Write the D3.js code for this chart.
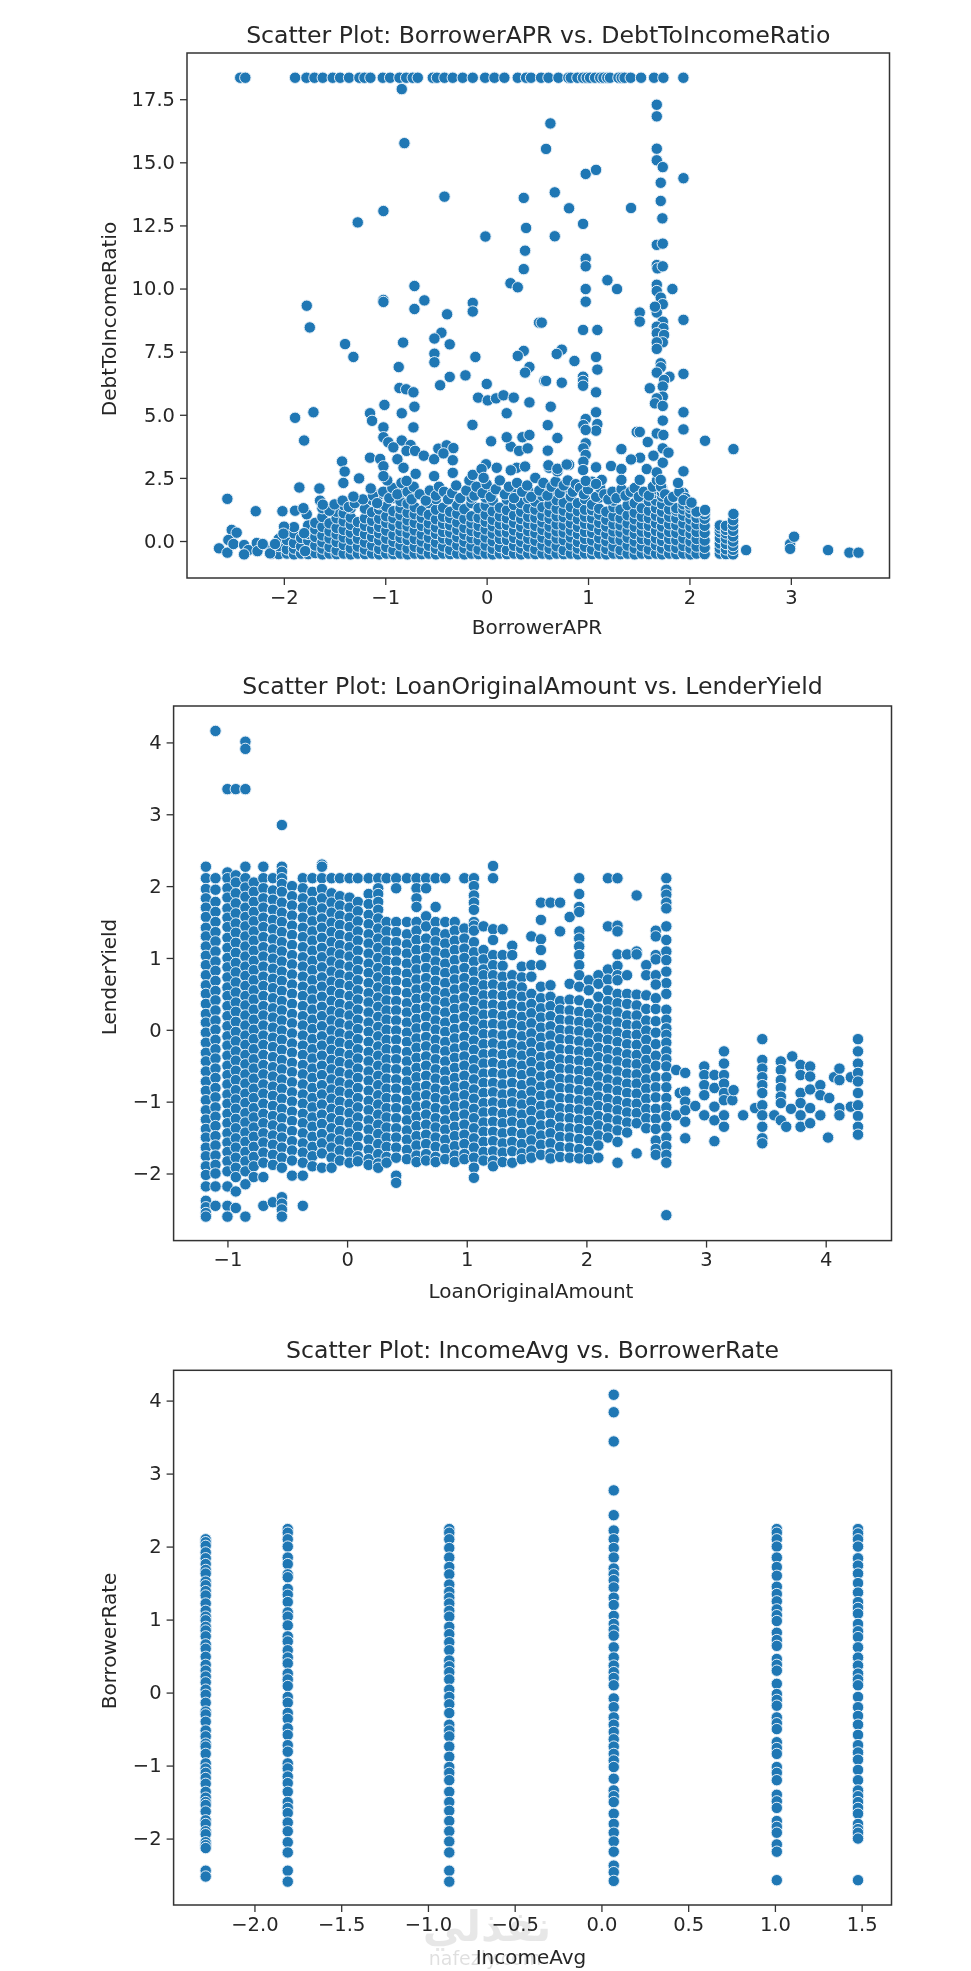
<!DOCTYPE html>
<html>
<head>
<meta charset="utf-8">
<script src="https://cdn.jsdelivr.net/npm/d3@7"></script>
<style>
    html, body { margin: 0; padding: 0; background: #fff; }
    svg { display: block; filter: blur(0.55px); }
    text { font-family: "DejaVu Sans", sans-serif; fill: #262626; }
</style>
</head>
<body>
<div id="chart"></div>
<script>

// ---- first panel: BorrowerAPR vs DebtToIncomeRatio ----
var aprTopRow = [-2.43,-2.38,-1.889,-1.777,-1.698,-1.616,-1.518,-1.445,-1.357,-1.255,-1.205,-1.146,-1.024,-.952,-.86,-.794,-.729,-.679,-.531,-.49,-.416,-.334,-.236,-.137,-.015,.077,.175,.307,.389,.438,.537,.61,.708,.806,.83,.895,.95,.987,1.02,1.069,1.12,1.152,1.19,1.217,1.3,1.332,1.36,1.421,1.523,1.651,1.743,1.94];
var debtTopValue = 18.35;

var aprDebtPoints = [
    [-.837,17.9],[-.811,15.76],[.629,16.54],[.586,15.53],[-.416,13.64],[-1.018,13.07],[-1.271,12.62],[.366,13.59],[.389,12.4],[-.012,12.06],
    [.379,11.5],[.366,10.77],[.235,10.21],[.307,10.05],[-.712,10.1],[-1.018,9.55],[-1.018,9.47],[-.614,9.53],[-.712,9.19],[-1.774,9.32],
    [-1.744,8.46],[-.39,8.98],[-.137,9.43],[-.137,9.09],[.517,8.65],[-1.396,7.8],[-1.314,7.29],[-.824,7.86],[-.446,8.25],[-.515,8.02],
    [-.364,7.79],[-.515,7.42],[-.515,7.08],[-.111,7.29],[.366,7.53],[.307,7.33],[.422,6.89],[.379,6.67],[-.867,6.89],[-.364,6.5],
    [-.459,6.17],[-.209,6.56],[.001,6.22],[.57,6.34],[-.86,6.06],[-.794,6.01],[-.722,5.89],[-.084,5.68],[.011,5.57],[.093,5.65],
    [.166,5.77],[.267,5.68],[.422,5.49],[-1.008,5.39],[-.712,5.32],[1.678,17.28],[1.678,16.82],[1.678,15.54],[1.678,15.08],[1.737,14.81],
    [1.941,14.37],[1.717,14.19],[.977,14.54],[1.079,14.7],[.672,13.81],[.813,13.18],[1.424,13.19],[1.717,13.47],[1.733,12.78],[.951,12.56],
    [.672,12.07],[1.678,11.73],[1.737,11.78],[.977,11.18],[.977,10.88],[1.678,10.93],[1.684,10.8],[1.737,10.88],[1.191,10.33],[1.286,9.98],
    [.977,9.98],[.977,9.48],[1.678,10.15],[1.832,9.98],[1.678,9.9],[1.717,9.64],[1.737,9.38],[1.51,9.05],[1.51,8.69],[1.678,9.05],
    [1.66,9.28],[1.941,8.76],[1.737,8.69],[1.678,8.49],[1.743,8.43],[1.678,8.23],[1.75,8.16],[1.737,7.87],[1.678,7.87],[1.678,7.61],
    [.543,8.65],[.951,8.36],[1.092,8.36],[.741,7.58],[.691,7.41],[.866,7.13],[1.079,7.29],[1.092,6.79],[1.717,7.04],[1.717,6.88],
    [1.678,6.67],[1.803,6.51],[1.941,6.62],[1.75,6.38],[.586,6.34],[.741,6.27],[.951,6.51],[.951,6.34],[.951,6.15],[1.079,5.89],
    [1.609,6.05],[1.737,6.12],[1.737,5.72],[1.678,5.65],[.632,5.32],[1.66,5.45],[1.737,5.35],[1.941,5.1],[1.079,5.1],[.977,4.83],
    [1.092,4.63],[.954,4.59],[.603,4.59],[1.737,4.77],[1.941,4.42],[1.079,4.37],[.977,4.4],[1.48,4.32],[1.51,4.32],[1.678,4.26],
    [1.743,4.2],[.698,4.08],[1.589,3.92],[.977,3.87],[2.154,3.97],[1.329,3.64],[2.434,3.64],[.603,3.58],[.954,3.67],[.977,3.41],
    [1.737,3.67],[1.793,3.5],[1.645,3.38],[1.513,3.3],[1.424,3.23],[.954,3.14],[1.737,3.1],[.813,3.02],[1.227,2.97],[1.079,2.92],
    [1.329,2.85],[1.579,2.85],[.616,2.9],[.698,2.76],[.951,2.81],[1.941,2.76],[1.678,2.72],[1.135,2.42],[1.329,2.42],[1.51,2.42],
    [1.717,2.42],[1.888,2.3],[.977,2.38],[1.079,2.26],[2.559,-.36],[2.993,-.12],[3.032,.17],[2.993,-.31],[3.367,-.36],[3.578,-.46],[3.667,-.46],
    [-2.557,1.67],[-2.277,1.18],[-2.014,1.18],[-1.889,1.2],[-1.998,.57],[-2.514,.44],[-2.465,.33],[-2.547,.04],[-2.639,-.29],[-2.557,-.46],
    [-2.497,-.12],[-2.392,-.16],[-2.35,-.36],[-2.392,-.53],[-2.267,-.08],[-2.26,-.4],[-2.208,-.12],[-2.136,-.49],[-2.087,-.12],[-2.004,.29],
    [-1.79,-.4],[-1.8,.31],[-1.774,1.06],[-1.807,1.3],[-1.847,2.12],[-1.649,2.08],[-1.643,1.6],[-1.616,1.44],[-1.889,4.88],[-1.708,5.1],
    [-1.8,3.98],[-1.426,3.15],[-1.4,2.75],[-1.413,2.3],[-1.258,2.48],[-1.143,2.08],[-1.314,1.76],[-1.15,5.06],[-1.13,4.76],[-.837,5.06],
    [-1.018,4.5],[-.722,4.5],[-1.018,4.11],[-.97,3.91],[-.837,3.98],[-.92,3.71],[-.75,3.8],[-.79,3.57],[-.706,3.57],[-.62,3.38],
    [-1.15,3.3],[-1.05,3.25],[-.88,3.24],[-1.018,2.96],[-.82,2.9],[-.7,2.66],[-.98,2.4],[-1.018,2.57],[-.79,2.38],[-.518,2.57],
    [-.518,3.24],[-.476,3.66],[-.394,3.79],[-.328,3.68],[-.426,3.47],[-.334,3.2],[-.334,2.7],[-.137,2.62],[-.14,4.6],[.044,3.95],
    [-.006,3.04],[-.05,2.85],[.1,2.9],[-.03,2.5],[.198,5.06],[.238,3.74],[.32,3.57],[.405,3.67],[.198,4.11],[.353,4.11],[.422,4.2],
    [.609,3],[.698,2.86],[.297,2.9],[.379,2.95],[.238,2.8],[.79,3.03],[2.434,1.07],[2.07,1.16],[2.154,1.23],[1.941,1.62],[2.02,1.52]
];

// the looser band just above the solid part of the cloud
var aprDebtBand = [
    [-1.62,1.3],[-1.55,1.2],[-1.5,1.45],[-1.42,1.6],[-1.36,1.35],[-1.3,1.5],[-1.22,1.65],[-1.12,1.8],[-1.08,1.5],[-1.02,1.95],
    [-.96,1.7],[-.93,2.1],[-.88,1.85],[-.84,2.3],[-.78,1.95],[-.74,1.65],[-.72,2.15],[-.66,1.85],[-.6,1.6],[-.56,2],
    [-.5,1.8],[-.47,2.15],[-.42,1.95],[-.38,1.65],[-.34,1.9],[-.3,2.2],[-.26,1.7],[-.2,2],[-.17,2.4],[-.12,1.8],
    [-.1,2.15],[-.04,1.9],[0,2.25],[.04,1.75],[.09,2.05],[.13,2.4],[.18,1.85],[.22,2.15],[.27,1.7],[.3,2.3],
    [.35,1.95],[.4,2.2],[.44,1.75],[.48,2.5],[.52,2],[.56,2.3],[.6,1.8],[.64,2.15],[.68,2.35],[.72,1.9],
    [.76,2.2],[.8,2.4],[.85,1.95],[.88,2.25],[.92,2.1],[.96,1.85],[1,2.05],[1.04,2.35],[1.08,1.75],[1.12,2.1],
    [1.16,1.85],[1.2,1.65],[1.24,1.95],[1.28,1.7],[1.33,2.05],[1.37,1.8],[1.42,1.95],[1.46,2.1],[1.5,1.75],[1.55,1.95],
    [1.6,1.8],[1.64,2.15],[1.68,2.4],[1.72,2.15],[1.76,1.85],[1.8,1.6],[1.84,1.75],[1.9,1.95],[1.96,1.7],[2,1.45]
];

var aprColumnX = [-2.12,-2.05,-1.97,-1.9,-1.83,-1.76,-1.69,-1.62,-1.55,-1.48,-1.41,-1.34,-1.27,-1.2,-1.13,-1.06,-.99,-.92,-.85,-.78,-.71,-.64,-.57,-.5,-.43,-.36,-.29,-.22,-.15,-.08,-.01,.06,.13,.2,.27,.34,.41,.48,.55,.62,.69,.76,.83,.9,.97,1.04,1.11,1.18,1.25,1.32,1.39,1.46,1.53,1.6,1.67,1.73,1.8,1.87,1.94,2.01,2.07,2.15,2.3,2.36,2.43];
var debtColumns = [
    [-.5,-.3],[-.52,-.2,.08],[-.5,-.33,.04,.36],[-.53,-.3,-.08,.3,.55],[-.5,-.22,.12],[-.52,-.35,.02,.28,.62],[-.48,-.18,.16,.46,.72],
    [-.53,-.3,-.05,.22,.56,.95],[-.5,-.24,.1,.38,.7],[-.52,-.37,-.04,.26,.52,.9,1.16],[-.5,-.16,.14,.44,.78,1.1,1.42],
    [-.53,-.29,.05,.33,.64,.93,1.3],[-.5,-.22,.09,.4,.75],[-.52,-.34,-.06,.27,.6,.9,1.28],[-.5,-.18,.16,.48,.8,1.14,1.62],
    [-.53,-.32,.02,.3,.56,.88,1.25,1.46,1.84],[-.5,-.24,.09,.41,.72,.98,1.36],[-.52,-.36,-.03,.24,.6,.9,1.18,1.7],
    [-.5,-.17,.12,.39,.66,1.02,1.3,1.58,1.92],[-.53,-.3,.04,.3,.58,.82,1.12,1.48],[-.5,-.23,.08,.42,.72,1.06,1.34,1.86],
    [-.52,-.33,-.02,.26,.6,.92,1.2],[-.5,-.19,.13,.45,.7,1.04,1.5],[-.53,-.31,-.06,.28,.54,.86,1.24,1.66,1.9],
    [-.5,-.22,.1,.36,.68,.96,1.32],[-.52,-.35,.02,.33,.62,.9,1.16,1.82],[-.5,-.17,.15,.44,.74,1.08,1.42],
    [-.53,-.3,-.03,.25,.52,.88,1.26],[-.5,-.21,.11,.4,.7,.98,1.5,1.72],[-.52,-.34,.03,.32,.6,.92,1.3],
    [-.5,-.18,.14,.46,.76,1.04,1.4,1.72,2],[-.53,-.31,-.01,.29,.58,.84,1.18,1.6,1.92],[-.5,-.24,.08,.37,.66,.98,1.32],
    [-.52,-.36,.04,.34,.63,.9,1.22,1.64],[-.5,-.19,.12,.42,.72,1.02,1.42,1.86],[-.53,-.3,-.03,.26,.56,.87,1.16,1.5],
    [-.5,-.22,.09,.39,.68,.96,1.3,1.7,2],[-.52,-.33,.01,.31,.6,.92,1.24,1.56],[-.5,-.18,.13,.44,.74,1,1.34,1.78,2.02],
    [-.53,-.31,-.02,.28,.57,.88,1.14,1.46,1.9],[-.5,-.21,.1,.38,.66,.98,1.28,1.62],[-.52,-.36,.03,.33,.62,.94,1.2,1.52,2.06],
    [-.5,-.17,.14,.41,.7,1.02,1.34,1.76],[-.53,-.3,-.04,.27,.56,.86,1.18,1.5,2.1],[-.5,-.23,.08,.36,.68,.96,1.24,1.66,1.96],
    [-.52,-.34,.02,.32,.6,.9,1.22,1.44],[-.5,-.19,.11,.43,.72,1.04,1.28,1.72],[-.53,-.32,-.01,.27,.57,.84,1.16],
    [-.5,-.22,.09,.38,.66,.98,1.34,1.6],[-.52,-.36,.03,.34,.62,.9,1.24],[-.5,-.18,.13,.42,.7,1.02,1.42,1.88],
    [-.53,-.3,-.02,.28,.56,.86,1.12,1.5],[-.5,-.21,.08,.37,.66,.96,1.3,1.74],[-.52,-.34,.02,.32,.6,.9,1.2,1.58,1.92],
    [-.5,-.17,.1,.4,.7,1,1.3,1.6,1.9,2.05],[-.53,-.3,0,.28,.57,.87,1.16,1.46,1.76,1.92,2.1],[-.5,-.22,.08,.36,.66,.96,1.25],
    [-.52,-.28,.03,.32,.62,.9,1.2,1.3],[-.5,-.2,.1,.4,.7,1,1.25,1.45,1.72,1.9],[-.53,-.3,-.02,.28,.56,.86,1.1,1.3],[-.5,-.22,.08,.36,.66,.92,1.14],
    [-.52,-.27,.02,.32,.6,.88,1.06,1.2],[-.5,-.3,-.1,.12,.35,.5,.62],[-.52,-.33,-.12,.1,.3,.44,.6],[-.53,-.35,-.2,-.02,.18,.4,.62,.82]
];

// ---- second panel: LoanOriginalAmount vs LenderYield ----
var loanX = [-1.18,-1.1,-1,-.93,-.85,-.78,-.7,-.62,-.545,-.46,-.37,-.29,-.21,-.13,-.06,.02,.09,.18,.26,.33,.41,.5,.58,.66,.74,.82,.9,.98,1.06,1.14,1.22,1.3,1.38,1.46,1.54,1.62,1.7,1.78,1.86,1.94,2.02,2.1,2.18,2.26,2.34,2.42,2.5,2.58];
var lenderYields = [
    [2.27,2.11,1.96,1.83,1.7,1.57,1.42,1.3,1.16,1.03,.9,.76,.62,.5,.36,.22,.1,-.04,-.18,-.32,-.44,-.58,-.72,-.85,-.98,-1.12,-1.25,-1.38,-1.5,-1.64,-1.76,-1.9,-2.02,-2.18,-2.38,-2.47,-2.55,-2.6],
    [4.16,2.11,1.95,1.78,1.64,1.5,1.36,1.23,1.09,.95,.82,.68,.54,.41,.27,.13,0,-.14,-.27,-.4,-.54,-.67,-.81,-.94,-1.08,-1.21,-1.34,-1.48,-1.61,-1.75,-1.88,-2,-2.18,-2.45],
    [3.35,2.19,2.11,1.97,1.84,1.69,1.56,1.43,1.28,1.14,1,.87,.73,.59,.47,.33,.19,.05,-.09,-.22,-.36,-.5,-.63,-.76,-.9,-1.03,-1.17,-1.3,-1.44,-1.57,-1.7,-1.83,-1.97,-2.18,-2.45,-2.6],
    [3.35,2.15,2.05,1.9,1.76,1.62,1.48,1.35,1.21,1.07,.93,.8,.66,.52,.38,.25,.11,-.03,-.16,-.3,-.43,-.57,-.7,-.84,-.97,-1.1,-1.24,-1.37,-1.51,-1.64,-1.78,-1.92,-2.05,-2.25,-2.48],
    [4.01,3.91,3.35,2.27,2.11,1.98,1.85,1.7,1.57,1.44,1.3,1.16,1.02,.88,.75,.61,.47,.34,.2,.06,-.08,-.21,-.35,-.48,-.62,-.75,-.89,-1.02,-1.16,-1.29,-1.43,-1.56,-1.7,-1.83,-1.97,-2.15,-2.6],
    [2.05,1.92,1.78,1.64,1.51,1.37,1.24,1.1,.96,.83,.69,.55,.42,.28,.14,0,-.13,-.27,-.41,-.54,-.68,-.82,-.95,-1.09,-1.22,-1.36,-1.49,-1.63,-1.77,-1.9,-2.05],
    [2.27,2.11,1.97,1.83,1.7,1.56,1.43,1.29,1.15,1.02,.88,.74,.61,.47,.33,.2,.06,-.08,-.21,-.35,-.49,-.62,-.76,-.89,-1.03,-1.17,-1.3,-1.44,-1.57,-1.71,-1.85,-2.05,-2.45],
    [2.11,1.94,1.81,1.67,1.53,1.4,1.26,1.12,.99,.85,.71,.58,.44,.3,.17,.03,-.11,-.24,-.38,-.52,-.65,-.79,-.92,-1.06,-1.2,-1.33,-1.47,-1.6,-1.74,-1.88,-2.4],
    [2.85,2.27,2.2,2.11,2.03,1.92,1.77,1.63,1.5,1.36,1.22,1.09,.95,.81,.68,.54,.4,.27,.13,-.01,-.14,-.28,-.42,-.55,-.69,-.82,-.96,-1.1,-1.23,-1.37,-1.5,-1.64,-1.78,-1.92,-2.33,-2.42,-2.5,-2.6],
    [2,1.86,1.73,1.59,1.45,1.32,1.18,1.04,.91,.77,.63,.5,.36,.22,.09,-.05,-.19,-.32,-.46,-.59,-.73,-.87,-1,-1.14,-1.27,-1.41,-1.55,-1.68,-1.82,-2.03],
    [2.11,1.97,1.83,1.7,1.56,1.42,1.29,1.15,1.01,.88,.74,.6,.47,.33,.19,.06,-.08,-.22,-.35,-.49,-.62,-.76,-.9,-1.03,-1.17,-1.3,-1.44,-1.58,-1.71,-1.85,-2.03,-2.45],
    [2.11,1.92,1.78,1.65,1.51,1.37,1.24,1.1,.96,.83,.69,.55,.42,.28,.14,.01,-.13,-.27,-.4,-.54,-.67,-.81,-.95,-1.08,-1.22,-1.35,-1.49,-1.63,-1.76,-1.9],
    [2.3,2.27,2.11,1.96,1.83,1.69,1.55,1.42,1.28,1.14,1.01,.87,.73,.6,.46,.32,.19,.05,-.09,-.22,-.36,-.5,-.63,-.77,-.9,-1.04,-1.18,-1.31,-1.45,-1.58,-1.72,-1.92],
    [2.11,1.9,1.77,1.63,1.49,1.36,1.22,1.08,.95,.81,.67,.54,.4,.26,.13,-.01,-.15,-.28,-.42,-.55,-.69,-.83,-.96,-1.1,-1.23,-1.37,-1.51,-1.64,-1.78,-1.92],
    [2.11,1.86,1.73,1.59,1.46,1.32,1.18,1.05,.91,.77,.64,.5,.36,.23,.09,-.05,-.18,-.32,-.45,-.59,-.73,-.86,-1,-1.13,-1.27,-1.41,-1.54,-1.68,-1.82],
    [2.11,1.84,1.7,1.56,1.43,1.29,1.15,1.02,.88,.74,.61,.47,.33,.2,.06,-.08,-.21,-.35,-.48,-.62,-.76,-.89,-1.03,-1.16,-1.3,-1.44,-1.57,-1.71,-1.85],
    [2.11,1.78,1.65,1.51,1.37,1.24,1.1,.96,.83,.69,.55,.42,.28,.14,.01,-.13,-.27,-.4,-.54,-.67,-.81,-.95,-1.08,-1.22,-1.35,-1.49,-1.63,-1.76,-1.83],
    [2.11,1.89,1.75,1.6,1.47,1.33,1.2,1.06,.92,.79,.65,.51,.38,.24,.1,-.03,-.17,-.31,-.44,-.58,-.71,-.85,-.99,-1.12,-1.26,-1.39,-1.53,-1.67,-1.8,-1.88],
    [2.11,1.97,1.89,1.78,1.67,1.55,1.41,1.27,1.14,1,.86,.73,.59,.45,.32,.18,.04,-.09,-.23,-.36,-.5,-.64,-.77,-.91,-1.04,-1.18,-1.32,-1.45,-1.59,-1.73,-1.86,-1.92],
    [2.11,1.5,1.37,1.23,1.09,.96,.82,.68,.55,.41,.27,.14,0,-.14,-.27,-.41,-.54,-.68,-.82,-.95,-1.09,-1.22,-1.36,-1.5,-1.63,-1.77,-1.85],
    [2.11,1.97,1.5,1.36,1.22,1.09,.95,.81,.68,.54,.4,.27,.13,-.01,-.14,-.28,-.41,-.55,-.69,-.82,-.96,-1.09,-1.23,-1.37,-1.5,-1.64,-1.78,-2.03,-2.13],
    [2.11,1.5,1.33,1.19,1.06,.92,.78,.65,.51,.37,.24,.1,-.04,-.17,-.31,-.44,-.58,-.72,-.85,-.99,-1.12,-1.26,-1.4,-1.53,-1.67,-1.8],
    [2.11,1.97,1.83,1.71,1.5,1.38,1.25,1.11,.97,.84,.7,.56,.43,.29,.15,.02,-.12,-.25,-.39,-.53,-.66,-.8,-.93,-1.07,-1.21,-1.34,-1.48,-1.61,-1.75,-1.84],
    [2.11,1.97,1.58,1.44,1.27,1.13,1,.86,.72,.59,.45,.31,.18,.04,-.1,-.23,-.37,-.5,-.64,-.78,-.91,-1.05,-1.18,-1.32,-1.46,-1.59,-1.73,-1.82],
    [2.11,1.71,1.5,1.36,1.23,1.09,.95,.82,.68,.54,.41,.27,.13,0,-.14,-.27,-.41,-.55,-.68,-.82,-.95,-1.09,-1.23,-1.36,-1.5,-1.63,-1.77,-1.84],
    [2.11,1.5,1.33,1.2,1.06,.92,.79,.65,.51,.38,.24,.1,-.03,-.17,-.3,-.44,-.58,-.71,-.85,-.98,-1.12,-1.26,-1.39,-1.53,-1.66,-1.8],
    [1.5,1.38,1.24,1.11,.97,.83,.7,.56,.42,.29,.15,.01,-.12,-.26,-.39,-.53,-.67,-.8,-.94,-1.07,-1.21,-1.35,-1.48,-1.62,-1.75,-1.84],
    [2.11,1.41,1.27,1.13,1,.86,.72,.59,.45,.31,.18,.04,-.1,-.23,-.37,-.5,-.64,-.78,-.91,-1.05,-1.18,-1.32,-1.46,-1.59,-1.73,-1.8],
    [2.11,2,1.87,1.77,1.67,1.5,1.45,1.38,1.22,1.08,.95,.81,.67,.54,.4,.26,.13,-.01,-.15,-.28,-.42,-.55,-.69,-.83,-.96,-1.1,-1.23,-1.37,-1.51,-1.64,-1.78,-1.92,-2.06],
    [1.44,1.11,.98,.84,.76,.62,.48,.35,.21,.07,-.06,-.2,-.34,-.47,-.61,-.74,-.88,-1.02,-1.15,-1.29,-1.42,-1.56,-1.7,-1.82],
    [2.28,2.11,1.4,1.25,1.04,.9,.76,.63,.49,.35,.22,.08,-.06,-.19,-.33,-.46,-.6,-.74,-.87,-1.01,-1.14,-1.28,-1.42,-1.55,-1.69,-1.82,-1.9],
    [1.4,1.04,.89,.74,.6,.47,.33,.19,.06,-.08,-.22,-.35,-.49,-.62,-.76,-.9,-1.03,-1.17,-1.3,-1.44,-1.58,-1.71,-1.84],
    [1.17,1.04,.76,.62,.49,.35,.21,.08,-.06,-.2,-.33,-.47,-.6,-.74,-.88,-1.01,-1.15,-1.28,-1.42,-1.56,-1.69,-1.85],
    [.88,.73,.59,.46,.32,.18,.05,-.09,-.23,-.36,-.5,-.63,-.77,-.91,-1.04,-1.18,-1.31,-1.45,-1.59,-1.72,-1.8],
    [1.3,.9,.74,.5,.36,.23,.09,-.05,-.18,-.32,-.45,-.59,-.73,-.86,-1,-1.13,-1.27,-1.41,-1.54,-1.68,-1.78],
    [1.77,1.53,1.26,1.11,.9,.6,.44,.3,.17,.03,-.11,-.24,-.38,-.51,-.65,-.79,-.92,-1.06,-1.19,-1.33,-1.47,-1.6,-1.74],
    [1.77,.62,.46,.33,.19,.05,-.08,-.22,-.36,-.49,-.63,-.76,-.9,-1.04,-1.17,-1.31,-1.44,-1.58,-1.72,-1.79],
    [1.77,1.37,.4,.28,.14,0,-.13,-.27,-.41,-.54,-.68,-.81,-.95,-1.09,-1.22,-1.36,-1.49,-1.63,-1.77],
    [1.57,.64,.42,.27,.13,-.01,-.14,-.28,-.42,-.55,-.69,-.82,-.96,-1.1,-1.23,-1.37,-1.5,-1.64,-1.78],
    [2.11,1.89,1.71,1.64,1.37,1.27,1.16,1.04,.9,.76,.6,.41,.25,.11,-.02,-.16,-.3,-.43,-.57,-.7,-.84,-.98,-1.11,-1.25,-1.38,-1.52,-1.66,-1.79],
    [.69,.55,.36,.22,.09,-.05,-.19,-.32,-.46,-.59,-.73,-.87,-1,-1.14,-1.27,-1.41,-1.55,-1.7,-1.8],
    [.76,.64,.46,.3,.16,.03,-.11,-.25,-.38,-.52,-.65,-.79,-.93,-1.06,-1.2,-1.33,-1.47,-1.61,-1.78],
    [2.11,1.44,.84,.7,.55,.4,.27,.13,-.01,-.14,-.28,-.41,-.55,-.69,-.82,-.96,-1.09,-1.23,-1.37,-1.5],
    [2.11,1.45,1.37,1.05,.89,.76,.69,.5,.37,.24,.1,-.04,-.17,-.31,-.44,-.58,-.72,-.85,-.99,-1.12,-1.26,-1.4,-1.56,-1.85],
    [1.05,.76,.5,.36,.2,.07,-.07,-.2,-.34,-.47,-.61,-.75,-.88,-1.02,-1.15,-1.29,-1.43],
    [1.87,1.09,1.05,.49,.34,.2,.06,-.07,-.21,-.35,-.48,-.62,-.75,-.89,-1.03,-1.16,-1.3,-1.72],
    [.9,.76,.48,.29,.13,-.01,-.14,-.28,-.42,-.55,-.69,-.82,-.96,-1.1,-1.23,-1.37],
    [1.38,1.3,1.04,.98,.76,.44,.29,.12,-.04,-.2,-.36,-.5,-.66,-.8,-.94,-1.1,-1.24,-1.38,-1.54,-1.66,-1.74]
];
var loanColumnMain = [2.11,1.95,1.88,1.77,1.69,1.44,1.25,1.09,.97,.81,.65,.5,.28,.14,.02,-.07,-.18,-.3,-.41,-.51,-.66,-.8,-.95,-1.08,-1.2,-1.35,-1.5,-1.62,-1.74,-1.85,-2.58];
var loanColumnMainX = 2.668;
var loanRightX = [2.58,2.75,2.75,2.78,2.826,2.826,2.826,2.826,2.826,2.826,2.91,2.985,2.985,2.985,2.985,2.985,3.07,3.07,3.07,3.07,3.07,3.15,3.15,3.15,3.15,3.15,3.15,3.15,3.15,3.22,3.23,3.31,3.41,3.47,3.47,3.47,3.47,3.47,3.47,3.47,3.47,3.47,3.47,3.47,3.57,3.625,3.625,3.625,3.625,3.625,3.625,3.625,3.67,3.71,3.72,3.79,3.79,3.79,3.79,3.79,3.79,3.87,3.87,3.87,3.87,3.87,3.955,3.955,3.955,4.02,4.03,4.07,4.115,4.115,4.115,4.115,4.21,4.21,4.27,4.27,4.27,4.27,4.27,4.27,4.27,4.27,4.27,4.27];
var loanRightY = [.63,-.56,-1.19,-.88,-.6,-.86,-1,-1.12,-1.28,-1.51,-1.06,-.51,-.63,-.77,-.91,-1.19,-.63,-.81,-1.07,-1.26,-1.55,-.3,-.47,-.63,-.75,-.88,-.98,-1.19,-1.35,-.98,-.84,-1.19,-1.09,-.13,-.42,-.54,-.66,-.77,-.88,-1.05,-1.19,-1.35,-1.51,-1.58,-1.19,-.44,-.56,-.7,-.81,-.93,-1.02,-1.26,-1.35,-1.1,-.37,-.49,-.63,-.88,-1.02,-1.19,-1.35,-.51,-.65,-.83,-1.09,-1.3,-.77,-.91,-1.19,-1.5,-.95,-.66,-.54,-.7,-1.09,-1.19,-.66,-1.07,-.13,-.3,-.47,-.6,-.72,-.88,-1.05,-1.2,-1.35,-1.46];

// ---- third panel: IncomeAvg vs BorrowerRate ----
var incomeX = [-2.281,-1.808,-.877,.071,1.011,1.479];
var borrowerRates = [
    [2.1,2.06,2.01,1.92,1.84,1.76,1.68,1.63,1.52,1.47,1.39,1.33,1.22,1.12,1.04,.99,.9,.85,.77,.66,.6,.49,.38,.3,.22,.14,.04,-.03,-.14,-.26,-.3,-.4,-.52,-.6,-.7,-.74,-.84,-.97,-1.04,-1.1,-1.17,-1.25,-1.36,-1.44,-1.5,-1.54,-1.63,-1.75,-1.8,-1.9,-1.94,-2.05,-2.09,-2.13,-2.44,-2.52],
    [2.24,2.19,2.1,2.0,1.85,1.76,1.62,1.58,1.42,1.34,1.24,1.1,1.04,.92,.77,.7,.58,.48,.4,.26,.18,.09,-.06,-.14,-.28,-.36,-.49,-.58,-.72,-.81,-.97,-1.04,-1.15,-1.24,-1.36,-1.5,-1.58,-1.65,-1.78,-1.9,-2.05,-2.19,-2.44,-2.59],
    [2.24,2.19,2.1,1.98,1.85,1.72,1.62,1.48,1.38,1.3,1.22,1.12,1.04,.9,.8,.69,.58,.44,.36,.28,.18,.04,-.06,-.16,-.28,-.44,-.52,-.6,-.74,-.88,-1.02,-1.1,-1.2,-1.36,-1.5,-1.62,-1.76,-1.9,-2.04,-2.19,-2.44,-2.59],
    [4.08,3.84,3.44,2.77,2.43,2.22,2.1,1.98,1.85,1.7,1.62,1.54,1.44,1.3,1.2,1.05,.94,.86,.78,.62,.48,.37,.28,.2,.1,-.08,-.2,-.34,-.44,-.54,-.64,-.74,-.84,-.93,-1.02,-1.18,-1.34,-1.42,-1.5,-1.66,-1.8,-1.92,-2.04,-2.18,-2.37,-2.46,-2.58],
    [2.24,2.19,2.1,2.0,1.85,1.72,1.6,1.45,1.35,1.25,1.14,1.06,.98,.82,.72,.64,.46,.38,.3,.12,-.02,-.1,-.18,-.34,-.42,-.5,-.68,-.76,-.84,-1.02,-1.1,-1.2,-1.4,-1.49,-1.58,-1.76,-1.84,-1.92,-2.08,-2.18,-2.57],
    [2.24,2.18,2.1,2.0,1.84,1.74,1.63,1.5,1.37,1.24,1.16,1.08,.94,.84,.76,.62,.48,.37,.26,.18,.1,-.06,-.2,-.32,-.44,-.58,-.72,-.82,-.92,-1.06,-1.2,-1.34,-1.42,-1.5,-1.58,-1.66,-1.8,-1.87,-1.92,-2.0,-2.57]
];

var panels = [
    { title: "Scatter Plot: BorrowerAPR vs. DebtToIncomeRatio", xName: "BorrowerAPR", yName: "DebtToIncomeRatio",
      xTicks: [-2,-1,0,1,2,3], yTicks: [0,2.5,5,7.5,10,12.5,15,17.5], yFixed: 1,
      xDomain: [-2.955,3.973], yDomain: [-1.465,19.33], box: [187,53,889.5,578], titleY: 43, labelCx: 537, labelY: 634, yLabelY: 319 },
    { title: "Scatter Plot: LoanOriginalAmount vs. LenderYield", xName: "LoanOriginalAmount", yName: "LenderYield",
      xTicks: [-1,0,1,2,3,4], yTicks: [-2,-1,0,1,2,3,4], yFixed: 0,
      xDomain: [-1.45,4.55], yDomain: [-2.934,4.507], box: [173.6,706,891.5,1240.6], titleY: 694, labelCx: 531, labelY: 1298, yLabelY: 977 },
    { title: "Scatter Plot: IncomeAvg vs. BorrowerRate", xName: "IncomeAvg", yName: "BorrowerRate",
      xTicks: [-2,-1.5,-1,-.5,0,.5,1,1.5], xFixed: 1, yTicks: [-2,-1,0,1,2,3,4], yFixed: 0,
      xDomain: [-2.466,1.672], yDomain: [-2.91,4.415], box: [173.6,1370.3,891.5,1905], titleY: 1358, labelCx: 531, labelY: 1964, yLabelY: 1641 }
];

// turn the column style tables into plain x,y rows
function flatten(xs, cols) {
    var rows = [];
    xs.forEach(function(x, i) {
        cols[i].forEach(function(y) { rows.push([x, y]); });
    });
    return rows;
}

var panelData = [
    flatten(aprColumnX, debtColumns)
        .concat(aprDebtBand)
        .concat(aprDebtPoints)
        .concat(aprTopRow.map(function(x) { return [x, debtTopValue]; })),
    flatten(loanX, lenderYields)
        .concat(loanColumnMain.map(function(y) { return [loanColumnMainX, y]; }))
        .concat(loanRightX.map(function(x, i) { return [x, loanRightY[i]]; })),
    flatten(incomeX, borrowerRates)
];

var svg = d3.select("#chart").append("svg")
    .attr("width", 971)
    .attr("height", 1971);

svg.append("rect").attr("width", 971).attr("height", 1971).attr("fill", "#fff");

function fmt(fixed) {
    var f = d3.format("." + (fixed || 0) + "f");
    return function(v) {
        return (v < 0 ? "\u2212" : "") + f(Math.abs(v));
    };
}

panels.forEach(function(p, i) {
    var x = d3.scaleLinear().domain(p.xDomain).range([p.box[0], p.box[2]]);
    var y = d3.scaleLinear().domain(p.yDomain).range([p.box[3], p.box[1]]);
    var g = svg.append("g");

    g.selectAll("circle")
        .data(panelData[i])
        .enter().append("circle")
        .attr("cx", function(d) { return x(d[0]); })
        .attr("cy", function(d) { return y(d[1]); })
        .attr("r", 5.7)
        .attr("fill", "#1f77b4")
        .attr("stroke", "#e3eef7")
        .attr("stroke-width", 1);

    var xAxis = g.append("g")
        .attr("transform", "translate(0," + p.box[3] + ")")
        .call(d3.axisBottom(x).tickValues(p.xTicks).tickFormat(fmt(p.xFixed)).tickSize(7).tickPadding(5));
    var yAxis = g.append("g")
        .attr("transform", "translate(" + p.box[0] + ",0)")
        .call(d3.axisLeft(y).tickValues(p.yTicks).tickFormat(fmt(p.yFixed)).tickSize(7).tickPadding(5));

    [xAxis, yAxis].forEach(function(a) {
        a.select(".domain").remove();
        a.selectAll("line").attr("stroke", "#333").attr("stroke-width", 1.3);
        a.selectAll("text").attr("font-size", 19.5).attr("font-family", "DejaVu Sans");
    });

    g.append("rect")
        .attr("x", p.box[0]).attr("y", p.box[1])
        .attr("width", p.box[2] - p.box[0]).attr("height", p.box[3] - p.box[1])
        .attr("fill", "none").attr("stroke", "#333").attr("stroke-width", 1.5);

    g.append("text")
        .attr("x", (p.box[0] + p.box[2]) / 2).attr("y", p.titleY)
        .attr("text-anchor", "middle").attr("font-size", 23.6)
        .text(p.title);
    g.append("text")
        .attr("x", p.labelCx).attr("y", p.labelY)
        .attr("text-anchor", "middle").attr("font-size", 20)
        .text(p.xName);
    g.append("text")
        .attr("transform", "translate(116," + p.yLabelY + ") rotate(-90)")
        .attr("text-anchor", "middle").attr("font-size", 20)
        .text(p.yName);
});

// faint site watermark over the last axis
svg.append("text")
    .attr("x", 487).attr("y", 1941)
    .attr("text-anchor", "middle").attr("font-size", 42).attr("font-weight", "bold")
    .style("fill", "#000").attr("opacity", 0.09)
    .text("نفذلي");
svg.append("text")
    .attr("x", 485).attr("y", 1965)
    .attr("text-anchor", "middle").attr("font-size", 19)
    .style("fill", "#000").attr("opacity", 0.12)
    .text("nafezly.com");

</script>
</body>
</html>
